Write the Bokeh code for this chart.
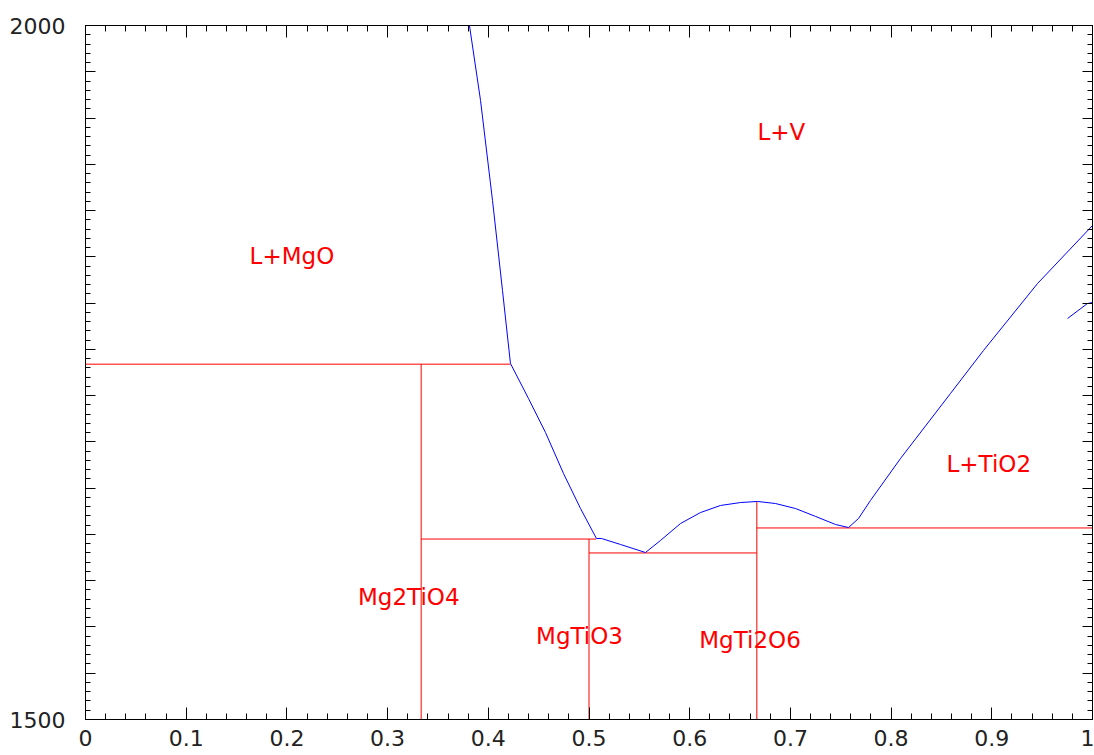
from bokeh.plotting import figure
from bokeh.models import Range1d, FixedTicker, LinearAxis, CustomJSTickFormatter
from bokeh.core.properties import value
from bokeh.embed import file_html
from bokeh.resources import INLINE

# Liquidus boundary (mole fraction TiO2 vs temperature, K)
liquidus_x = [0.3813, 0.3923, 0.4042, 0.4141, 0.4220, 0.4399, 0.4568, 0.4747,
              0.4916, 0.5074, 0.5124, 0.5313, 0.5561, 0.5710, 0.5909, 0.6107,
              0.6306, 0.6504, 0.6673, 0.6852, 0.7051, 0.7250, 0.7448, 0.7577,
              0.7676, 0.7795, 0.8093, 0.8590, 0.8918, 0.9454, 1.0]
liquidus_t = [2000.0, 1946.0, 1873.9, 1809.1, 1756.5, 1731.3, 1706.8, 1677.2,
              1652.0, 1630.4, 1630.4, 1626.1, 1620.3, 1629.0, 1641.2, 1649.1,
              1654.2, 1656.3, 1657.1, 1655.6, 1652.0, 1646.3, 1640.5, 1638.3,
              1644.8, 1657.8, 1688.0, 1734.9, 1765.9, 1814.1, 1855.9]

# Short boundary near pure TiO2
upper_x = [0.9752, 0.995, 1.0]
upper_t = [1788.9, 1799.7, 1800.4]

# Invariant lines and compound lines
inv_x0 = [0.0, 1 / 3, 1 / 3, 0.5, 0.5, 2 / 3, 2 / 3]
inv_x1 = [0.422, 1 / 3, 0.507, 0.5, 2 / 3, 2 / 3, 1.0]
inv_t0 = [1756.0, 1756.0, 1630.0, 1630.0, 1620.0, 1657.0, 1638.0]
inv_t1 = [1756.0, 1500.0, 1630.0, 1500.0, 1620.0, 1500.0, 1638.0]

# Phase field labels
label_text = ["L+MgO", "L+V", "L+TiO2", "Mg2TiO4", "MgTiO3", "MgTi2O6"]
label_x = [0.205, 0.691, 0.897, 0.321, 0.4906, 0.6599]
label_t = [1833.6, 1923.3, 1684.4, 1588.6, 1559.8, 1557.6]

# Axis ticks
x_major = [k / 10 for k in range(11)]
x_minor = [k / 50 for k in range(51)]
y_major = [1500 + 500 * k / 15 for k in range(16)]
y_minor = [1500 + 500 * k / 75 for k in range(76)]

p = figure(width=1094, height=755,
           x_range=Range1d(0, 1), y_range=Range1d(1500, 2000),
           output_backend="svg", toolbar_location=None,
           min_border_left=85, min_border_right=2,
           min_border_top=25, min_border_bottom=36)
p.grid.visible = False
p.outline_line_color = "black"
p.background_fill_color = "white"
p.border_fill_color = "white"

x_fmt = CustomJSTickFormatter(code="return Number(tick.toFixed(1)).toString();")
y_fmt = CustomJSTickFormatter(
    code="return (Math.abs(tick-1500)<1e-6 || Math.abs(tick-2000)<1e-6) ? tick.toFixed(0) : '';")
blank_fmt = CustomJSTickFormatter(code="return '';")

def style_common(ax, ticks, minor, tick_in, minor_in):
    ax.ticker = FixedTicker(ticks=ticks, minor_ticks=minor)
    ax.major_tick_in = tick_in
    ax.major_tick_out = 0
    ax.minor_tick_in = minor_in
    ax.minor_tick_out = 0
    ax.axis_line_color = "black"
    ax.major_tick_line_color = "black"
    ax.minor_tick_line_color = "black"
    ax.major_label_text_font = "DejaVu Sans"
    ax.major_label_text_font_size = "22px"
    ax.major_label_text_color = "#222222"

def style_x(ax, labels):
    style_common(ax, x_major, x_minor, 12, 6)
    if labels:
        ax.formatter = x_fmt
        ax.major_label_standoff = 10
    else:
        ax.formatter = blank_fmt
        ax.major_label_standoff = 0

def style_y(ax, labels):
    style_common(ax, y_major, y_minor, 10, 5)
    if labels:
        ax.formatter = y_fmt
        ax.major_label_standoff = 20
    else:
        ax.formatter = blank_fmt
        ax.major_label_standoff = 0

style_x(p.xaxis[0], True)
style_y(p.yaxis[0], True)
top_axis = LinearAxis()
right_axis = LinearAxis()
style_x(top_axis, False)
style_y(right_axis, False)
p.add_layout(top_axis, "above")
p.add_layout(right_axis, "right")

p.segment(x0=inv_x0, y0=inv_t0, x1=inv_x1, y1=inv_t1,
          line_color="#ff0000", line_width=1)
p.line(liquidus_x, liquidus_t, line_color="#0000ff", line_width=1)
p.line(upper_x, upper_t, line_color="#0000ff", line_width=1)

p.text(x=label_x, y=label_t, text=label_text,
       text_color="#ff0000", text_font=value("DejaVu Sans"),
       text_font_size="23px", text_align="center", text_baseline="middle")

open("out.html", "w").write(file_html(p, INLINE))
